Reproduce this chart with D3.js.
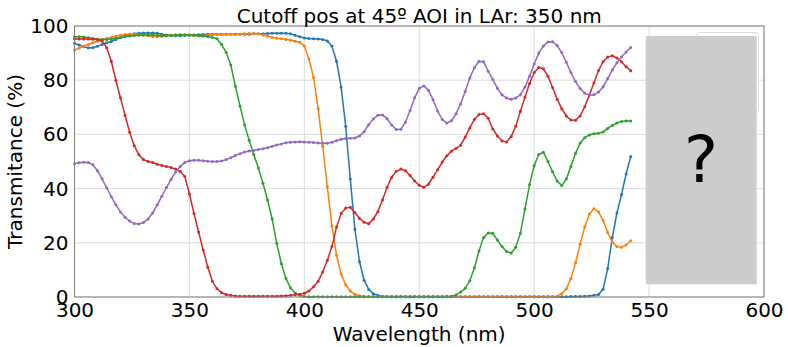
<!DOCTYPE html>
<html lang="en">
<head>
  <meta charset="UTF-8">
  <title>Cutoff pos at 45º AOI in LAr</title>
  <script src="https://d3js.org/d3.v7.min.js"></script>
  <style>
    body { margin: 0; background: #fff; }
    svg text { font-family: "DejaVu Sans", sans-serif; fill: #000; }
    .line { fill: none; stroke-width: 1.5px; }
  </style>
</head>
<body>
  <svg width="788" height="347"></svg>

  <script>
    // wavelength samples (nm), 2 nm step
    const wavelengths = d3.range(300, 543, 2);

    const xTicks = [300, 350, 400, 450, 500, 550, 600];
    const yTicks = [0, 20, 40, 60, 80, 100];

    // transmittance (%)
    const blueT = [
      93.6, 93.0, 92.3, 92.0, 92.0, 92.5, 93.2, 93.8, 94.3, 95.0,
      95.7, 96.3, 96.8, 97.1, 97.3, 97.4, 97.4, 97.4, 97.3, 97.0,
      96.7, 96.5, 96.4, 96.4, 96.5, 96.6, 96.7, 96.8, 96.9, 97.0,
      97.0, 97.0, 97.0, 97.0, 97.0, 97.0, 97.0, 97.0, 97.0, 97.1,
      97.1, 97.1, 97.2, 97.3, 97.3, 97.3, 97.3, 97.1, 96.6, 96.0,
      95.6, 95.4, 95.3, 95.2, 95.0, 94.5, 92.6, 87.0, 77.5, 63.0,
      43.5, 25.0, 13.0, 6.2, 2.8, 1.2, 0.6, 0.3, 0.2, 0.1,
      0.1, 0.1, 0.1, 0.1, 0.1, 0.1, 0.1, 0.1, 0.1, 0.1,
      0.1, 0.1, 0.1, 0.1, 0.1, 0.1, 0.1, 0.1, 0.1, 0.1,
      0.1, 0.1, 0.1, 0.1, 0.1, 0.1, 0.1, 0.1, 0.1, 0.1,
      0.1, 0.1, 0.1, 0.1, 0.1, 0.1, 0.1, 0.1, 0.2, 0.2,
      0.2, 0.3, 0.4, 0.6, 0.9, 2.9, 10.5, 22.0, 31.0, 37.8,
      45.4, 51.8
    ];
    const orangeT = [
      91.1, 91.9, 92.6, 93.2, 93.8, 94.4, 94.9, 95.4, 95.8, 96.2,
      96.6, 96.9, 97.0, 97.0, 96.9, 96.7, 96.4, 96.1, 96.0, 96.1,
      96.3, 96.6, 96.8, 96.9, 96.8, 96.6, 96.4, 96.3, 96.4, 96.6,
      96.8, 96.9, 96.9, 96.9, 96.9, 96.9, 97.0, 97.1, 97.2, 97.2,
      97.1, 96.7, 96.2, 95.8, 95.5, 95.3, 95.0, 94.7, 94.4, 94.0,
      92.6, 87.8, 81.0, 69.5, 55.5, 40.7, 26.2, 15.5, 8.5, 4.5,
      2.2, 1.0, 0.5, 0.3, 0.2, 0.2, 0.2, 0.2, 0.2, 0.2,
      0.2, 0.2, 0.2, 0.2, 0.2, 0.2, 0.2, 0.2, 0.2, 0.2,
      0.2, 0.2, 0.2, 0.2, 0.2, 0.2, 0.2, 0.2, 0.2, 0.2,
      0.2, 0.2, 0.2, 0.2, 0.2, 0.2, 0.2, 0.2, 0.2, 0.2,
      0.2, 0.2, 0.2, 0.2, 0.2, 0.3, 1.2, 3.0, 6.8, 12.7,
      19.5, 25.8, 30.6, 32.6, 31.4, 28.2, 23.8, 20.3, 18.6, 18.4,
      19.2, 20.8
    ];
    const greenT = [
      96.0, 96.0, 95.9, 95.7, 95.4, 95.1, 95.0, 95.0, 95.2, 95.5,
      95.8, 96.1, 96.3, 96.5, 96.6, 96.7, 96.7, 96.7, 96.6, 96.5,
      96.5, 96.5, 96.6, 96.7, 96.7, 96.7, 96.6, 96.5, 96.3, 96.1,
      95.8, 95.3, 93.2, 90.2, 85.6, 77.8, 70.5, 63.5, 57.8, 52.6,
      47.6, 42.0, 35.8, 28.8, 19.8, 12.3, 6.8, 3.3, 1.5, 0.6,
      0.2, 0.1, 0.1, 0.1, 0.1, 0.1, 0.1, 0.1, 0.1, 0.1,
      0.1, 0.1, 0.1, 0.1, 0.1, 0.1, 0.1, 0.1, 0.1, 0.1,
      0.1, 0.1, 0.1, 0.1, 0.1, 0.1, 0.1, 0.1, 0.1, 0.1,
      0.1, 0.2, 0.3, 0.7, 1.8, 3.2, 6.0, 10.8, 17.0, 22.0,
      23.6, 23.5, 21.0, 18.6, 16.8, 16.2, 18.4, 23.5, 32.5, 41.5,
      48.5, 52.6, 53.4, 50.0, 46.2, 42.8, 41.1, 43.5, 48.2, 53.0,
      56.8, 58.8, 59.8, 60.2, 60.4, 60.9, 62.2, 63.3, 64.2, 64.8,
      64.9, 64.9
    ];
    const redT = [
      95.2, 95.2, 95.2, 95.2, 95.1, 95.0, 94.5, 92.0, 87.0, 80.0,
      73.5, 67.0, 60.8, 55.8, 52.5, 50.7, 50.0, 49.6, 49.0, 48.5,
      48.2, 47.8, 47.2, 46.3, 44.5, 38.0, 30.8, 24.0, 17.3, 11.0,
      5.8, 3.0, 1.6, 0.9, 0.6, 0.4, 0.3, 0.3, 0.3, 0.3,
      0.3, 0.3, 0.3, 0.3, 0.3, 0.4, 0.5, 0.6, 0.8, 1.0,
      1.4, 2.2, 3.8, 5.8, 9.2, 13.5, 18.6, 25.8, 30.8, 32.8,
      33.1, 31.2, 29.0, 27.6, 27.0, 28.8, 31.5, 35.8, 40.5, 44.2,
      46.4, 47.2, 46.6, 44.8, 42.8, 41.2, 40.5, 41.6, 44.2, 47.0,
      49.8, 52.1, 53.8, 54.8, 56.0, 59.0, 62.4, 65.6, 67.3, 67.6,
      66.0, 62.0, 59.4, 57.6, 57.2, 59.2, 63.0, 68.5, 73.7, 78.8,
      82.8, 84.7, 84.2, 81.5, 77.3, 73.0, 69.5, 66.8, 65.3, 65.2,
      66.8, 70.2, 74.5, 79.0, 83.6, 86.8, 88.6, 89.0, 88.2, 86.8,
      85.0, 83.5
    ];
    const purpleT = [
      49.2, 49.5, 49.7, 49.6, 48.8, 46.6, 43.6, 40.3, 37.0, 34.0,
      31.4, 29.4, 28.0, 27.1, 26.9, 27.5, 28.8, 31.0, 34.0, 37.2,
      40.4, 43.4, 46.1, 48.2, 49.6, 50.3, 50.5, 50.5, 50.3, 50.1,
      50.0, 50.0, 50.2, 50.7, 51.4, 52.2, 52.9, 53.5, 53.9, 54.1,
      54.4, 54.7, 55.1, 55.6, 56.1, 56.5, 56.9, 57.1, 57.2, 57.3,
      57.2, 57.1, 57.0, 56.8, 56.7, 56.7, 57.1, 57.7, 58.2, 58.5,
      58.6, 58.7, 59.4, 61.0, 63.6, 65.7, 67.1, 67.2, 65.8, 63.5,
      61.8, 61.9, 64.5, 68.8, 73.5, 77.0, 77.9, 76.3, 72.8, 68.6,
      65.5, 64.2, 65.0, 67.6, 71.2, 75.8, 80.8, 84.6, 87.0, 86.8,
      83.3, 80.3, 77.0, 74.6, 73.4, 73.0, 73.4, 74.6, 77.5, 81.5,
      86.0, 90.0, 92.6, 94.1, 94.2, 92.8, 90.2, 86.6, 82.8, 79.5,
      76.9, 75.2, 74.5, 74.6, 75.6, 77.6, 80.6, 83.8, 86.4, 88.6,
      90.4, 92.1
    ];

    const series = [
      { color: "#1f77b4", values: blueT },
      { color: "#ff7f0e", values: orangeT },
      { color: "#2ca02c", values: greenT },
      { color: "#d62728", values: redT },
      { color: "#9467bd", values: purpleT }
    ];

    const svg = d3.select("svg"),
          margin = {top: 26, right: 24, bottom: 50, left: 74.5},
          width = +svg.attr("width") - margin.left - margin.right,
          height = +svg.attr("height") - margin.top - margin.bottom,
          g = svg.append("g").attr("transform", `translate(${margin.left},${margin.top})`);

    const x = d3.scaleLinear().domain([300, 600]).range([0, width]);
    const y = d3.scaleLinear().domain([0, 100]).range([height, 0]);

    // grid
    g.selectAll(".vgrid").data(xTicks).enter().append("line")
      .attr("x1", d => x(d)).attr("x2", d => x(d))
      .attr("y1", 0).attr("y2", height)
      .attr("stroke", "#d3d3d3").attr("stroke-width", 0.8);
    g.selectAll(".hgrid").data(yTicks).enter().append("line")
      .attr("x1", 0).attr("x2", width)
      .attr("y1", d => y(d)).attr("y2", d => y(d))
      .attr("stroke", "#d3d3d3").attr("stroke-width", 0.8);

    // axes (no visible tick marks, labels only)
    const xAxis = g.append("g")
      .attr("transform", `translate(0,${height})`)
      .call(d3.axisBottom(x).tickValues(xTicks).tickSize(0).tickPadding(6));
    const yAxis = g.append("g")
      .call(d3.axisLeft(y).tickValues(yTicks).tickSize(0).tickPadding(6));
    [xAxis, yAxis].forEach(a => {
      a.select(".domain").remove();
      a.selectAll("text").style("font-size", "20px").attr("fill", "#000");
    });

    // data
    const line = d3.line()
      .x((d, i) => x(wavelengths[i]))
      .y(d => y(d));

    series.forEach(s => {
      g.append("path")
        .datum(s.values)
        .attr("class", "line")
        .attr("stroke", s.color)
        .attr("d", line);
      g.selectAll(null)
        .data(s.values)
        .enter().append("circle")
        .attr("cx", (d, i) => x(wavelengths[i]))
        .attr("cy", d => y(d))
        .attr("r", 1.5)
        .attr("fill", s.color);
    });

    // frame
    g.append("rect")
      .attr("width", width).attr("height", height)
      .attr("fill", "none").attr("stroke", "#808080").attr("stroke-width", 1);

    // legend frame, hidden behind the grey box
    svg.append("rect")
      .attr("x", 696.5).attr("y", 32.5).attr("width", 62).attr("height", 80)
      .attr("rx", 3).attr("fill", "#fff").attr("fill-opacity", 0.8)
      .attr("stroke", "#dcdcdc").attr("stroke-width", 1);

    svg.append("rect")
      .attr("x", 645.7).attr("y", 36).attr("width", 111).attr("height", 248.3)
      .attr("fill", "#cccccc");
    svg.append("text")
      .attr("x", 701).attr("y", 182)
      .attr("text-anchor", "middle")
      .style("font-size", "64px")
      .text("?");

    // title and labels
    svg.append("text")
      .attr("x", margin.left + width / 2).attr("y", 22.5)
      .attr("text-anchor", "middle")
      .style("font-size", "20px")
      .text("Cutoff pos at 45º AOI in LAr: 350 nm");

    svg.append("text")
      .attr("x", margin.left + width / 2).attr("y", 341)
      .attr("text-anchor", "middle")
      .style("font-size", "20px")
      .text("Wavelength (nm)");

    svg.append("text")
      .attr("transform", `translate(22,${margin.top + height / 2}) rotate(-90)`)
      .attr("text-anchor", "middle")
      .style("font-size", "20px")
      .text("Transmitance (%)");
  </script>
</body>
</html>
